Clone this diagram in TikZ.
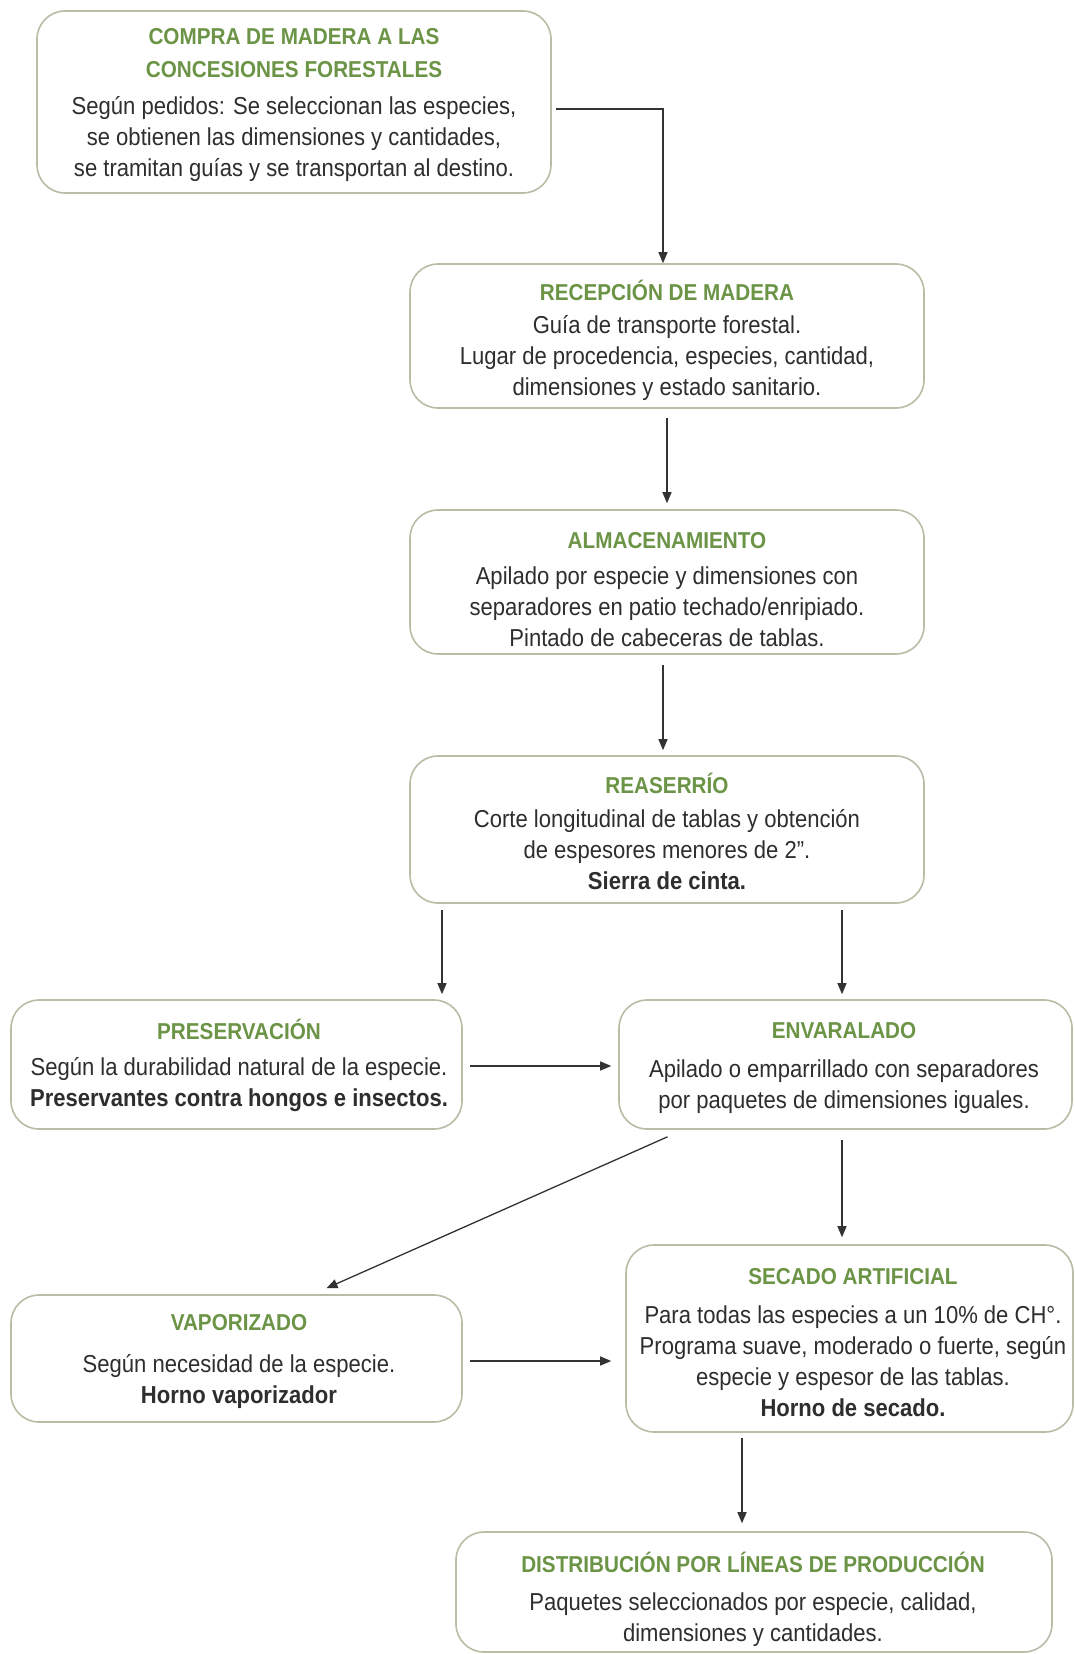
\documentclass[tikz,border=0pt]{standalone}
\usepackage{fontspec}
\setmainfont{Liberation Sans}[FakeStretch=0.9]
\usetikzlibrary{arrows.meta,calc}
\definecolor{boxc}{HTML}{B7BEA6}
\definecolor{ttlc}{HTML}{6C9446}
\definecolor{txtc}{HTML}{2E2E2E}
\definecolor{arrc}{HTML}{333333}
\newcommand{\ttlfont}{\fontsize{23pt}{33pt}\selectfont\bfseries}
\newcommand{\bdyfont}{\fontsize{24.5pt}{31pt}\selectfont}
\begin{document}
\begin{tikzpicture}[x=1pt,y=-1pt,
  box/.style={draw=boxc, line width=1.6pt, rounded corners=28pt, inner sep=0pt, fill=white},
  ttl/.style={text=ttlc, font=\ttlfont, align=center, inner sep=0pt},
  bdy/.style={text=txtc, font=\bdyfont, align=center, inner sep=0pt},
  arr/.style={draw=arrc, line width=1.3pt, -{Triangle[length=11pt,width=9pt]}}]
\useasboundingbox[fill=white] (0,0) rectangle (1075,1654);

% boxes
\node[box, minimum width=514pt, minimum height=182pt] (b1) at (294,102) {};
\node[box, minimum width=514pt, minimum height=144pt] (b2) at (667,336) {};
\node[box, minimum width=514pt, minimum height=144pt] (b3) at (667,582) {};
\node[box, minimum width=514pt, minimum height=147pt] (b4) at (667,829.5) {};
\node[box, minimum width=451pt, minimum height=129pt] (b5) at (236.5,1064.5) {};
\node[box, minimum width=453pt, minimum height=129pt] (b6) at (845.5,1064.5) {};
\node[box, minimum width=451pt, minimum height=127pt] (b7) at (236.5,1358.5) {};
\node[box, minimum width=447pt, minimum height=187pt] (b8) at (849.5,1338.5) {};
\node[box, minimum width=596pt, minimum height=120pt] (b9) at (754,1592) {};

% texts
\node[ttl] (t1) at (294,53.5) {COMPRA DE MADERA A LAS\\CONCESIONES FORESTALES};
\node[bdy] (d1) at (294,139) {Según pedidos: Se seleccionan las especies,\\se obtienen las dimensiones y cantidades,\\se tramitan guías y se transportan al destino.};

\node[ttl] (t2) at (667,290) {RECEPCIÓN DE MADERA};
\node[bdy] (d2) at (667,358.5) {Guía de transporte forestal.\\Lugar de procedencia, especies, cantidad,\\dimensiones y estado sanitario.};

\node[ttl] (t3) at (667,541) {ALMACENAMIENTO};
\node[bdy] (d3) at (667,606.5) {Apilado por especie y dimensiones con\\separadores en patio techado/enripiado.\\Pintado de cabeceras de tablas.};

\node[ttl] (t4) at (667,783) {REASERRÍO};
\node[bdy] (d4) at (667,849.5) {Corte longitudinal de tablas y obtención\\de espesores menores de 2”.\\\textbf{Sierra de cinta.}};

\node[ttl] (t5) at (239,1029) {PRESERVACIÓN};
\node[bdy] (d5) at (239,1084.5) {Según la durabilidad natural de la especie.\\\textbf{Preservantes contra hongos e insectos.}};

\node[ttl] (t6) at (844,1031) {ENVARALADO};
\node[bdy] (d6) at (844,1087) {Apilado o emparrillado con separadores\\por paquetes de dimensiones iguales.};

\node[ttl] (t7) at (239,1323) {VAPORIZADO};
\node[bdy] (d7) at (239,1382) {Según necesidad de la especie.\\\textbf{Horno vaporizador}};

\node[ttl] (t8) at (853,1277) {SECADO ARTIFICIAL};
\node[bdy] (d8) at (853,1361.5) {Para todas las especies a un 10\% de CH°.\\Programa suave, moderado o fuerte, según\\especie y espesor de las tablas.\\\textbf{Horno de secado.}};

\node[ttl] (t9) at (753,1562) {DISTRIBUCIÓN POR LÍNEAS DE PRODUCCIÓN};
\node[bdy] (d9) at (753,1619.5) {Paquetes seleccionados por especie, calidad,\\dimensiones y cantidades.};

% helper x positions
\coordinate (x442) at (442,0);
\coordinate (x842) at (842,0);
\coordinate (x742) at (742,0);

% connectors
\draw[arr] ([xshift=4pt,yshift=-7pt]b1.east) -| ([xshift=-4pt]b2.north);
\draw[arr, shorten <=9pt, shorten >=6pt] (b2.south) -- (b3.north);
\draw[arr, shorten <=10pt, shorten >=5pt] ([xshift=-4pt]b3.south) -- ([xshift=-4pt]b4.north);
\draw[arr, shorten <=6pt, shorten >=5pt] (b4.south -| x442) -- (b5.north -| x442);
\draw[arr, shorten <=6pt, shorten >=5pt] (b4.south -| x842) -- (b6.north -| x842);
\draw[arr, shorten <=7pt, shorten >=7pt] ([yshift=-1.5pt]b5.east) -- ([yshift=-1.5pt]b6.west);
\draw[arr] ([xshift=-178pt,yshift=-7pt]b6.south) -- ([xshift=90pt,yshift=6pt]b7.north);
\draw[arr, shorten <=10pt, shorten >=7pt] (b6.south -| x842) -- (b8.north -| x842);
\draw[arr, shorten <=7pt, shorten >=14pt] ([yshift=-2.5pt]b7.east) -- ([yshift=-2.5pt]b7.east -| b8.west);
\draw[arr, shorten <=5pt, shorten >=8pt] (b8.south -| x742) -- (b9.north -| x742);
\end{tikzpicture}
\end{document}
